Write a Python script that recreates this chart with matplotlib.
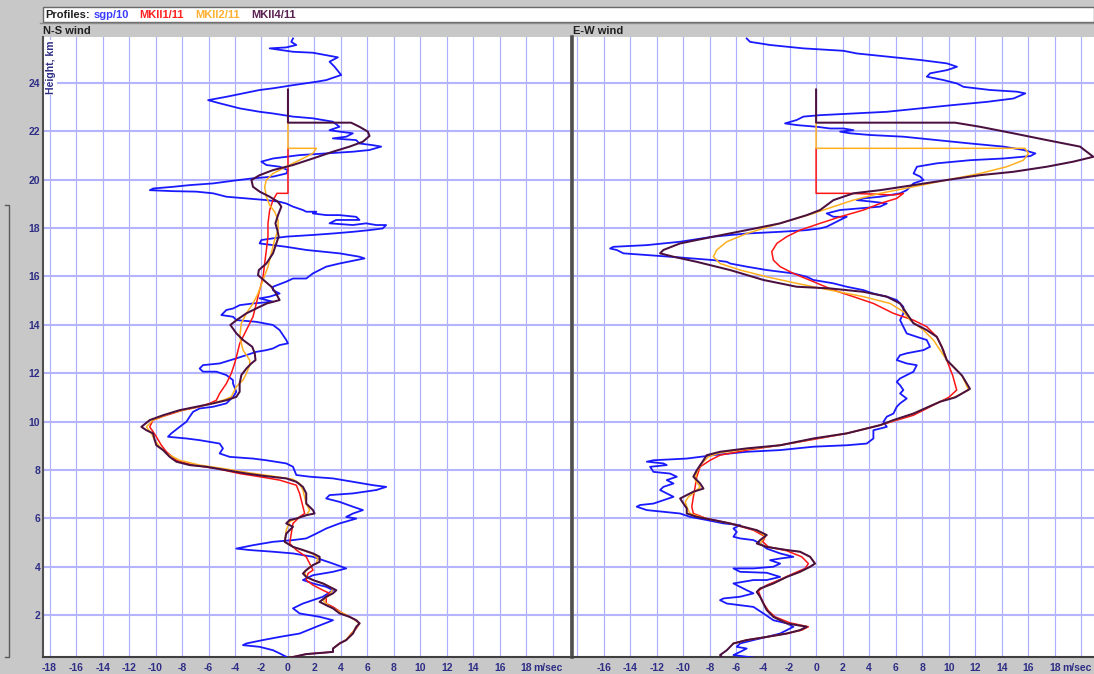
import matplotlib
matplotlib.use('Agg')
import matplotlib.pyplot as plt
from matplotlib.patches import Rectangle
from matplotlib.lines import Line2D

# ---------------- data: (height km, wind m/s) ----------------
series_names = ['sgp/10', 'MKII1/11', 'MKII2/11', 'MKII4/11']
series_colors = ['#1a1aff', '#ff1414', '#ffb020', '#4a1040']
legend_colors = ['#3a3aff', '#ff2020', '#ffb030', '#5a2050']

x_ticks_ns = [-18, -16, -14, -12, -10, -8, -6, -4, -2, 0, 2, 4, 6, 8, 10, 12, 14, 16, 18]
x_ticks_ew = [-16, -14, -12, -10, -8, -6, -4, -2, 0, 2, 4, 6, 8, 10, 12, 14, 16, 18]
y_ticks = [2, 4, 6, 8, 10, 12, 14, 16, 18, 20, 22, 24]

ns_sgp = [
    (25.83, 0.38), (25.69, 0.25), (25.56, 0.63), (25.46, -0.13), (25.42, -1.38), (25.28, 0.38),
    (25.24, 1.88), (25.14, 2.89), (25.05, 3.77), (24.87, 3.14), (24.66, 3.52), (24.32, 4.02),
    (24.11, 2.89), (24.04, 2.14), (23.90, 0.38), (23.77, -1.13), (23.70, -2.14), (23.56, -3.39),
    (23.42, -4.65), (23.28, -6.03), (23.15, -5.15), (22.94, -3.64), (22.80, -2.14), (22.73, -1.13),
    (22.60, 0.38), (22.53, 1.88), (22.39, 3.39), (22.18, 3.89), (22.04, 3.14), (21.98, 3.89),
    (21.91, 4.90), (21.77, 4.40), (21.70, 3.39), (21.63, 5.15), (21.49, 5.40), (21.42, 6.41),
    (21.36, 7.04), (21.22, 6.16), (21.15, 4.90), (21.08, 2.89), (21.01, 0.88), (20.94, -0.13),
    (20.87, -1.13), (20.74, -2.01), (20.60, -1.63), (20.53, -0.63), (20.39, 0.00), (20.25, -0.13),
    (20.12, -1.13), (20.05, -2.64), (19.95, -4.15), (19.84, -5.65), (19.77, -7.41), (19.70, -8.67),
    (19.63, -10.18), (19.56, -10.43), (19.52, -8.67), (19.50, -6.91), (19.43, -5.65), (19.29, -4.65),
    (19.22, -3.14), (19.15, -1.63), (19.08, -0.63), (19.01, -0.13), (18.88, 0.38), (18.74, 1.13),
    (18.67, 1.38), (18.67, 2.14), (18.60, 1.88), (18.53, 2.89), (18.53, 3.89), (18.46, 5.15),
    (18.33, 5.40), (18.33, 3.64), (18.19, 3.14), (18.12, 4.90), (18.19, 5.90), (18.12, 6.66),
    (18.12, 7.41), (17.98, 7.16), (17.91, 6.16), (17.84, 4.90), (17.77, 3.39), (17.71, 1.88),
    (17.64, -0.13), (17.57, -1.13), (17.50, -2.01), (17.36, -2.14), (17.29, -1.13), (17.22, -0.13),
    (17.09, 1.38), (17.02, 2.64), (16.95, 3.89), (16.81, 5.40), (16.74, 5.78), (16.67, 5.15),
    (16.53, 3.89), (16.40, 2.89), (16.26, 2.39), (16.12, 1.88), (15.91, 1.38), (15.91, 0.38),
    (15.78, -0.13), (15.57, -1.13), (15.43, -1.13), (15.29, -0.63), (15.16, -1.38), (15.09, -2.14),
    (14.95, -1.13), (14.88, -2.64), (14.81, -3.64), (14.67, -4.15), (14.61, -4.65), (14.40, -5.03),
    (14.33, -4.15), (14.19, -3.89), (14.12, -2.39), (13.99, -1.13), (13.78, -0.63), (13.37, -0.13),
    (13.23, 0.00), (13.16, -0.63), (13.02, -1.13), (12.95, -1.63), (12.88, -2.39), (12.61, -3.90),
    (12.40, -5.16), (12.33, -6.42), (12.19, -6.67), (12.06, -6.42), (12.06, -5.41), (11.92, -4.65),
    (11.71, -4.15), (11.57, -4.15), (11.23, -3.90), (11.02, -4.15), (10.75, -4.65), (10.61, -5.66),
    (10.54, -6.67), (10.40, -7.17), (10.20, -7.42), (9.99, -7.67), (9.78, -8.18), (9.51, -8.81),
    (9.37, -9.06), (9.30, -7.67), (9.23, -6.67), (9.16, -5.91), (9.09, -5.16), (8.89, -4.91),
    (8.68, -5.16), (8.54, -4.40), (8.47, -2.64), (8.40, -1.64), (8.27, -0.13), (8.13, 0.38),
    (7.79, 0.63), (7.72, 1.64), (7.65, 3.40), (7.51, 4.91), (7.37, 6.42), (7.30, 7.42),
    (7.17, 6.67), (7.03, 4.91), (6.96, 3.14), (6.82, 2.89), (6.68, 3.90), (6.48, 4.91),
    (6.34, 5.66), (6.20, 4.91), (6.06, 4.40), (5.99, 5.16), (5.79, 3.90), (5.58, 2.89),
    (5.37, 2.14), (5.17, 1.38), (5.10, 0.38), (5.03, -1.13), (4.89, -2.64), (4.75, -3.90),
    (4.69, -2.89), (4.62, -1.13), (4.55, 0.38), (4.41, 1.89), (4.13, 3.40), (3.93, 4.40),
    (3.79, 3.40), (3.65, 1.89), (3.45, 1.13), (3.31, 1.89), (3.17, 2.89), (3.03, 3.40),
    (2.76, 2.64), (2.62, 1.89), (2.48, 1.13), (2.28, 0.38), (2.07, 0.88), (1.93, 2.39),
    (1.79, 3.40), (1.52, 2.14), (1.24, 0.88), (1.10, -0.63), (0.97, -1.89), (0.83, -3.14),
    (0.76, -3.40), (0.69, -2.14), (0.55, -1.13), (0.42, -0.63), (0.28, -0.13),
]

ns_mk1 = [
    (21.29, 0.00), (19.43, 0.00), (19.43, -0.83), (19.15, -1.13), (18.74, -1.38), (18.19, -1.51),
    (17.64, -1.51), (17.09, -1.63), (16.53, -1.76), (15.98, -1.88), (15.43, -2.14), (14.88, -2.39),
    (14.33, -2.64), (13.78, -3.14), (13.23, -3.64), (12.68, -3.89), (12.40, -4.03), (11.99, -4.28),
    (11.57, -4.65), (11.16, -5.16), (10.88, -5.41), (10.75, -5.91), (10.61, -6.67), (10.47, -7.92),
    (10.26, -9.18), (10.06, -10.19), (9.78, -10.44), (9.58, -10.19), (9.37, -9.94), (9.02, -9.56),
    (8.75, -9.18), (8.40, -8.43), (8.20, -7.17), (8.06, -5.41), (7.85, -3.65), (7.72, -2.14),
    (7.58, -0.63), (7.37, 0.63), (7.03, 0.88), (6.48, 1.13), (6.20, 1.26), (6.06, 0.88),
    (5.79, 0.38), (5.37, 0.25), (4.96, 0.13), (4.69, 0.63), (4.41, 1.38), (4.13, 1.64),
    (3.86, 1.89), (3.72, 1.51), (3.45, 1.38), (3.24, 1.89), (3.03, 2.64), (2.90, 3.14),
    (2.76, 2.89), (2.48, 2.89), (2.34, 3.40), (2.07, 4.15), (1.86, 4.91), (1.66, 5.41),
    (1.45, 5.16), (1.24, 4.78), (0.97, 4.40), (0.83, 3.90), (0.62, 3.40), (0.48, 3.40),
    (0.39, 1.38), (0.21, -0.13),
]

ns_mk2 = [
    (22.35, 0.00), (21.29, 0.00), (21.29, 2.14), (21.08, 1.88), (20.87, 1.13), (20.67, 0.38),
    (20.46, -0.38), (20.25, -1.13), (19.98, -1.63), (19.70, -1.76), (19.29, -1.63), (18.94, -1.38),
    (18.67, -1.01), (18.33, -0.75), (17.91, -0.75), (17.50, -1.01), (16.95, -1.26), (16.40, -1.51),
    (15.85, -1.88), (15.29, -2.26), (14.88, -2.64), (14.47, -3.14), (14.06, -3.52), (13.50, -3.64),
    (12.95, -3.39), (12.54, -2.89), (12.33, -2.89), (11.99, -3.14), (11.71, -3.40), (11.44, -3.90),
    (11.02, -4.28), (10.88, -4.91), (10.68, -6.16), (10.54, -7.42), (10.33, -8.93), (10.06, -10.19),
    (9.78, -10.69), (9.51, -10.31), (9.23, -10.06), (8.96, -9.69), (8.68, -9.18), (8.40, -8.18),
    (8.20, -6.67), (8.06, -4.91), (7.88, -2.89), (7.74, -1.13), (7.61, 0.38), (7.44, 0.88),
    (7.17, 1.13), (6.61, 1.38), (6.34, 1.64), (6.13, 1.38), (5.99, 0.63), (5.86, 0.13),
    (5.51, -0.13), (5.03, -0.25), (4.82, 0.38), (4.69, 1.13), (4.52, 1.89), (4.34, 2.26),
    (4.13, 2.14), (4.00, 1.64), (3.79, 1.26), (3.58, 1.38), (3.42, 2.01), (3.28, 2.77),
    (3.10, 3.40), (2.83, 3.14), (2.62, 2.64), (2.41, 3.02), (2.21, 3.65), (1.97, 4.53),
    (1.77, 5.16), (1.63, 5.36), (1.41, 5.03), (1.21, 4.78), (0.97, 4.35), (0.80, 3.85),
    (0.62, 3.40),
]

ns_mk4 = [
    (23.72, 0.00), (22.35, 0.00), (22.35, 4.77), (22.18, 5.40), (21.98, 6.03), (21.80, 6.16),
    (21.56, 5.65), (21.36, 4.65), (21.15, 3.39), (20.87, 1.88), (20.60, 0.38), (20.39, -1.13),
    (20.18, -2.14), (19.98, -2.76), (19.70, -2.64), (19.50, -2.14), (19.29, -1.38), (19.08, -0.75),
    (18.88, -0.50), (18.53, -0.75), (18.19, -0.95), (17.91, -0.80), (17.64, -0.70), (17.36, -0.88),
    (16.95, -1.13), (16.53, -1.63), (16.26, -2.20), (16.05, -2.26), (15.78, -1.70), (15.57, -1.25),
    (15.29, -0.90), (15.02, -0.63), (14.88, -1.60), (14.74, -2.14), (14.47, -3.14), (14.19, -3.89),
    (13.99, -4.35), (13.64, -3.89), (13.37, -3.39), (13.09, -2.70), (12.82, -2.51), (12.54, -2.45),
    (12.40, -2.77), (12.19, -3.14), (11.92, -3.52), (11.57, -3.65), (11.23, -3.65), (11.02, -3.90),
    (10.88, -4.65), (10.75, -5.66), (10.61, -6.92), (10.47, -8.18), (10.26, -9.43), (10.06, -10.44),
    (9.78, -11.07), (9.64, -10.69), (9.51, -10.19), (9.23, -10.06), (9.02, -9.94), (8.82, -9.43),
    (8.54, -8.93), (8.34, -8.43), (8.20, -7.42), (8.13, -6.16), (7.99, -4.65), (7.85, -3.14),
    (7.74, -1.64), (7.65, -0.13), (7.51, 0.63), (7.30, 1.13), (7.03, 1.38), (6.61, 1.38),
    (6.34, 1.89), (6.20, 2.01), (6.13, 1.38), (5.99, 0.63), (5.93, 0.13), (5.79, -0.13),
    (5.65, 0.38), (5.37, -0.13), (5.03, -0.25), (4.82, 0.38), (4.69, 1.13), (4.55, 1.89),
    (4.41, 2.39), (4.20, 2.39), (4.07, 1.89), (3.86, 1.38), (3.72, 1.13), (3.58, 1.38),
    (3.45, 1.89), (3.31, 2.64), (3.17, 3.14), (3.03, 3.65), (2.90, 3.40), (2.76, 2.89),
    (2.55, 2.39), (2.41, 2.89), (2.28, 3.40), (2.07, 3.90), (1.93, 4.65), (1.79, 5.16),
    (1.66, 5.41), (1.52, 5.16), (1.24, 4.91), (0.97, 4.40), (0.83, 3.90), (0.62, 3.40),
    (0.48, 3.40), (0.39, 1.38), (0.21, -0.13),
]

ew_sgp = [
    (25.83, -5.23), (25.69, -4.98), (25.56, -3.47), (25.42, -0.96), (25.32, 2.06), (25.21, 3.07),
    (25.07, 5.58), (24.94, 7.85), (24.80, 9.86), (24.66, 10.62), (24.52, 9.86), (24.39, 8.60),
    (24.25, 8.35), (24.11, 9.61), (23.97, 10.62), (23.83, 11.12), (23.70, 13.13), (23.63, 15.14),
    (23.56, 15.77), (23.35, 14.89), (23.21, 12.88), (23.08, 10.36), (22.94, 7.85), (22.80, 5.33),
    (22.73, 2.82), (22.66, 0.30), (22.60, -0.96), (22.46, -1.46), (22.32, -2.34), (22.25, -1.46),
    (22.18, 0.05), (22.11, 1.06), (22.11, 2.06), (22.04, 2.82), (21.98, 1.81), (21.91, 2.57),
    (21.84, 4.08), (21.77, 6.59), (21.63, 9.11), (21.49, 11.62), (21.36, 14.14), (21.22, 15.65),
    (21.08, 16.53), (20.97, 16.15), (20.87, 14.14), (20.80, 11.62), (20.67, 9.11), (20.53, 7.60),
    (20.25, 7.35), (20.12, 7.85), (19.98, 8.10), (19.84, 7.34), (19.56, 6.83), (19.43, 6.33),
    (19.29, 4.82), (19.22, 3.57), (19.15, 3.07), (19.08, 4.32), (19.01, 5.33), (18.88, 4.82),
    (18.81, 3.32), (18.74, 1.81), (18.60, 0.80), (18.46, 1.31), (18.46, 2.31), (18.33, 1.81),
    (18.19, 1.31), (18.05, 0.80), (17.98, 0.30), (17.91, -0.70), (17.84, -2.71), (17.77, -5.23),
    (17.64, -7.74), (17.43, -10.25), (17.29, -12.76), (17.22, -15.28), (17.15, -15.53), (17.09, -15.03),
    (16.95, -14.52), (16.88, -12.76), (16.78, -10.25), (16.67, -7.74), (16.60, -6.73), (16.53, -6.48),
    (16.40, -5.23), (16.26, -3.72), (16.12, -1.71), (15.98, -0.70), (15.85, -0.20), (15.71, 1.31),
    (15.57, 2.31), (15.43, 3.57), (15.29, 4.32), (15.16, 5.33), (15.02, 6.08), (14.74, 6.58),
    (14.47, 6.58), (14.19, 6.33), (13.92, 6.58), (13.64, 6.83), (13.50, 7.59), (13.37, 8.34),
    (13.09, 8.59), (12.95, 8.09), (12.82, 6.83), (12.74, 6.33), (12.54, 6.08), (12.40, 6.83),
    (12.33, 7.59), (12.06, 7.34), (11.92, 6.83), (11.78, 6.33), (11.64, 6.08), (11.50, 6.33),
    (11.30, 6.58), (11.16, 6.33), (10.95, 6.83), (10.75, 6.33), (10.61, 6.08), (10.33, 5.83),
    (10.20, 5.33), (9.99, 5.08), (9.78, 5.33), (9.64, 4.32), (9.30, 4.32), (9.09, 3.82),
    (9.02, 2.31), (8.96, -0.20), (8.82, -2.71), (8.75, -5.23), (8.61, -7.74), (8.47, -9.75),
    (8.40, -12.26), (8.34, -12.76), (8.27, -11.51), (8.20, -11.26), (8.13, -12.51), (7.92, -12.26),
    (7.85, -11.01), (7.72, -10.50), (7.58, -11.26), (7.44, -10.75), (7.30, -11.51), (7.17, -11.76),
    (7.03, -11.26), (6.89, -10.75), (6.75, -11.51), (6.61, -12.26), (6.55, -13.27), (6.48, -13.52),
    (6.34, -12.76), (6.20, -10.25), (6.06, -9.50), (5.93, -8.24), (5.79, -6.98), (5.72, -5.73),
    (5.58, -6.23), (5.44, -5.98), (5.24, -6.23), (5.17, -5.73), (5.10, -4.72), (4.96, -4.22),
    (4.75, -3.72), (4.55, -2.71), (4.48, -2.21), (4.41, -1.71), (4.34, -2.71), (4.27, -3.47),
    (4.13, -2.71), (4.00, -3.22), (3.93, -4.72), (3.93, -6.23), (3.79, -5.73), (3.75, -3.72),
    (3.58, -2.71), (3.45, -3.72), (3.45, -4.72), (3.31, -6.23), (3.17, -5.73), (3.03, -5.23),
    (2.90, -4.72), (2.76, -5.73), (2.69, -6.98), (2.62, -7.24), (2.48, -6.73), (2.41, -5.73),
    (2.34, -4.72), (2.07, -3.97), (1.79, -3.22), (1.66, -2.21), (1.52, -1.71), (1.38, -2.21),
    (1.24, -2.71), (1.10, -3.72), (0.97, -4.72), (0.83, -5.73), (0.69, -5.98), (0.62, -5.23),
    (0.48, -5.73), (0.35, -6.23), (0.28, -5.23), (0.21, -4.22),
]

ew_mk1 = [
    (21.29, 0.00), (19.43, 0.00), (19.43, 2.31), (19.40, 4.32), (19.36, 5.83), (19.43, 6.58),
    (19.22, 6.08), (19.01, 4.82), (18.74, 3.57), (18.46, 1.81), (18.19, 0.30), (17.91, -1.21),
    (17.64, -2.21), (17.36, -2.96), (17.02, -3.34), (16.67, -3.22), (16.40, -2.71), (16.12, -1.71),
    (15.78, -0.20), (15.43, 1.31), (15.16, 2.81), (14.88, 4.32), (14.47, 5.83), (14.19, 7.34),
    (13.92, 8.34), (13.50, 9.10), (12.95, 9.60), (12.54, 9.85), (11.90, 10.30), (11.30, 10.60),
    (11.00, 10.00), (10.82, 9.35), (10.26, 7.34), (9.85, 4.82), (9.51, 2.31), (9.26, -0.20),
    (9.02, -2.71), (8.82, -5.23), (8.61, -7.24), (8.40, -7.99), (8.13, -8.74), (7.72, -8.99),
    (7.30, -9.12), (6.89, -9.25), (6.48, -9.37), (6.20, -9.25), (5.99, -8.24), (5.79, -6.48),
    (5.51, -4.72), (5.24, -3.84), (5.03, -4.02), (4.82, -3.59), (4.66, -2.21), (4.41, -1.08),
    (4.13, -0.58), (3.93, -0.83), (3.72, -1.71), (3.47, -2.71), (3.24, -3.72), (3.01, -4.35),
    (2.73, -4.17), (2.45, -3.92), (2.18, -3.59), (1.93, -3.09), (1.68, -1.96), (1.52, -0.58),
    (1.38, -1.08), (1.24, -2.21), (1.10, -3.72), (0.97, -5.23), (0.83, -6.23),
]

ew_mk2 = [
    (22.35, 0.00), (21.29, 0.00), (21.29, 15.75), (21.08, 16.01), (20.80, 15.63), (20.53, 14.37),
    (20.25, 12.36), (19.98, 9.85), (19.70, 7.34), (19.43, 4.82), (19.15, 2.81), (18.88, 1.31),
    (18.60, -0.20), (18.19, -2.71), (17.77, -5.23), (17.43, -6.73), (17.09, -7.49), (16.81, -7.74),
    (16.53, -7.24), (16.26, -5.73), (15.98, -3.72), (15.71, -1.46), (15.43, 1.06), (15.16, 3.57),
    (14.88, 5.58), (14.54, 6.58), (14.19, 7.09), (13.78, 8.09), (13.37, 8.84), (12.95, 9.35),
    (12.54, 9.85), (11.90, 11.00), (11.30, 11.50), (11.00, 10.40), (10.82, 9.35), (10.33, 7.34),
    (9.85, 4.82), (9.51, 2.31), (9.29, -0.20), (9.02, -2.71), (8.86, -5.23), (8.71, -7.24),
    (8.54, -8.12), (8.27, -8.62), (7.92, -8.99), (7.58, -9.12), (7.30, -8.74), (7.10, -9.12),
    (6.89, -9.62), (6.68, -9.87), (6.41, -9.70), (6.20, -9.50), (6.06, -8.74), (5.90, -7.49),
    (5.76, -6.23), (5.62, -5.23), (5.47, -4.35), (5.26, -3.84), (5.07, -4.10), (4.93, -4.22),
    (4.80, -3.59), (4.69, -2.21), (4.62, -1.21), (4.41, -0.45), (4.13, -0.08), (4.00, -0.45),
    (3.79, -1.21), (3.58, -2.21), (3.31, -3.22), (3.10, -4.22), (2.96, -4.47), (2.76, -4.22),
    (2.48, -3.97), (2.21, -3.72), (1.93, -3.22), (1.66, -2.21), (1.52, -0.70), (1.38, -1.21),
    (1.24, -2.21), (1.10, -3.72), (0.97, -5.23), (0.83, -6.23),
]

ew_mk4 = [
    (23.72, 0.00), (22.35, 0.00), (22.35, 10.48), (22.18, 12.36), (21.91, 14.87), (21.63, 17.39),
    (21.36, 19.90), (20.94, 20.90), (20.74, 19.40), (20.53, 17.39), (20.32, 14.87), (20.18, 12.36),
    (19.98, 9.85), (19.77, 7.34), (19.56, 4.82), (19.43, 2.81), (19.15, 1.31), (18.74, 0.30),
    (18.53, -0.70), (18.19, -2.71), (17.91, -5.23), (17.64, -7.74), (17.36, -10.25), (17.09, -11.51),
    (16.95, -11.76), (16.81, -10.75), (16.60, -9.00), (16.26, -6.48), (15.85, -3.97), (15.57, -1.46),
    (15.50, 1.06), (15.36, 3.57), (15.16, 5.33), (14.88, 6.33), (14.47, 6.83), (14.06, 7.34),
    (13.78, 8.34), (13.50, 9.10), (13.09, 9.47), (12.54, 9.85), (11.90, 11.00), (11.35, 11.60),
    (11.00, 10.50), (10.82, 9.35), (10.33, 7.34), (10.06, 5.83), (9.85, 4.82), (9.51, 2.31),
    (9.30, -0.20), (9.02, -2.71), (8.89, -5.23), (8.75, -7.24), (8.61, -8.24), (8.40, -8.49),
    (7.99, -8.99), (7.72, -9.25), (7.44, -8.74), (7.23, -8.49), (7.10, -9.25), (6.96, -9.75),
    (6.82, -10.25), (6.61, -10.00), (6.41, -9.75), (6.20, -9.75), (6.06, -8.99), (5.93, -7.74),
    (5.79, -6.48), (5.65, -5.48), (5.51, -4.47), (5.31, -3.72), (5.10, -4.22), (4.96, -4.47),
    (4.82, -3.72), (4.69, -2.21), (4.62, -1.21), (4.41, -0.45), (4.13, -0.08), (4.00, -0.45),
    (3.79, -1.21), (3.58, -2.21), (3.31, -3.22), (3.10, -4.22), (2.96, -4.47), (2.76, -4.22),
    (2.48, -3.97), (2.21, -3.72), (1.93, -3.22), (1.66, -2.21), (1.52, -0.70), (1.38, -1.21),
    (1.24, -2.21), (1.10, -3.72), (0.97, -5.23), (0.83, -6.23), (0.55, -6.73), (0.35, -7.24),
    (0.21, -6.98),
]

# ---------------- figure ----------------
W, H = 1094, 674
BG = '#c8c8c8'
NAVY = '#2e2e86'
GRID_V = '#aeaeff'
GRID_H = '#b4b4ff'
FONT = ['Liberation Sans', 'DejaVu Sans']
plt.rcParams['font.family'] = FONT

fig = plt.figure(figsize=(W / 100, H / 100), dpi=100, facecolor=BG)


def fx(x):
    return x / W


def fy(y):
    return 1 - y / H


ax_top, ax_bot = 37, 657
axL = fig.add_axes([fx(43), fy(ax_bot), (570 - 43) / W, (ax_bot - ax_top) / H])
axR = fig.add_axes([fx(572), fy(ax_bot), (1094 - 572) / W, (ax_bot - ax_top) / H])

panels = [
    (axL, [ns_sgp, ns_mk1, ns_mk2, ns_mk4], (-18.5, 21.3), x_ticks_ns, True),
    (axR, [ew_sgp, ew_mk1, ew_mk2, ew_mk4], (-18.4, 20.95), x_ticks_ew, False),
]

draw_order = [0, 2, 1, 3]
widths = [1.3, 1.1, 1.1, 1.45]

for ax, data, xl, xt, first in panels:
    ax.set_facecolor('white')
    ax.set_xlim(*xl)
    ax.set_ylim(0.27, 25.89)
    for gx in range(-18, 21, 2):
        ax.axvline(gx, color=GRID_V, lw=0.85, zorder=1)
    for gy in y_ticks:
        ax.axhline(gy, color=GRID_H, lw=1.5, zorder=1)
    for i in draw_order:
        hv = data[i]
        hs = [p[0] for p in hv]
        vs = [p[1] for p in hv]
        ax.plot(vs, hs, color=series_colors[i], lw=widths[i], zorder=3 + i,
                solid_joinstyle='round')
    ax.set_xticks(xt)
    ax.set_xticklabels([str(t) if t >= 0 else '-' + str(-t) for t in xt],
                       fontsize=7.5, fontweight='bold', color=NAVY)
    ax.tick_params(axis='x', length=0, pad=4)
    ax.annotate('m/sec', xy=(18, 0), xycoords=('data', 'axes fraction'),
                xytext=(5, -4), textcoords='offset points', ha='left', va='top',
                fontsize=7.5, fontweight='bold', color=NAVY, annotation_clip=False)
    for s in ['top', 'right']:
        ax.spines[s].set_visible(False)
    ax.spines['bottom'].set_color('#404040')
    ax.spines['bottom'].set_linewidth(1.5)
    if first:
        ax.set_yticks(y_ticks)
        ax.set_yticklabels([str(t) for t in y_ticks], fontsize=7.5,
                           fontweight='bold', color=NAVY)
        ax.tick_params(axis='y', length=0, pad=2)
        ax.spines['left'].set_color('#505050')
        ax.spines['left'].set_linewidth(1.5)
        ax.text(0.016, 0.994, 'Height, km', rotation=90, ha='center', va='top',
                transform=ax.transAxes, fontsize=7.5, fontweight='bold', color=NAVY,
                bbox=dict(boxstyle='square,pad=0.1', fc='white', ec='none'), zorder=10)
    else:
        ax.set_yticks([])
        ax.spines['left'].set_color('#505050')
        ax.spines['left'].set_linewidth(2.6)

# legend box at top
fig.patches.append(Rectangle((fx(43), fy(22)), (1094 - 43) / W, 15 / H,
                             transform=fig.transFigure, fc='white', ec='#6a6a6a',
                             lw=1.0, zorder=0))
ly = fy(14.5)
fig.text(fx(45), ly, 'Profiles:', fontsize=8, fontweight='bold', color='#202020',
         va='center', ha='left')
leg_x = [94, 139, 195, 251]
for i, name in enumerate(series_names):
    fig.text(fx(leg_x[i]), ly, name, fontsize=8, fontweight='bold',
             color=legend_colors[i], va='center', ha='left')

# header strip
fig.lines.append(Line2D([fx(40), fx(1094)], [fy(23), fy(23)], transform=fig.transFigure,
                        color='#8c8c8c', lw=1.0))
fig.text(fx(43), fy(31), 'N-S wind', fontsize=8, fontweight='bold', color='#202020',
         va='center', ha='left')
fig.text(fx(573), fy(31), 'E-W wind', fontsize=8, fontweight='bold', color='#202020',
         va='center', ha='left')

# left bracket decoration
fig.lines.append(Line2D([fx(5), fx(9), fx(9), fx(5)], [fy(205), fy(205), fy(657), fy(657)],
                        transform=fig.transFigure, color='#5a5a5a', lw=1.0))

fig.savefig('out.png', dpi=100, facecolor=BG)
